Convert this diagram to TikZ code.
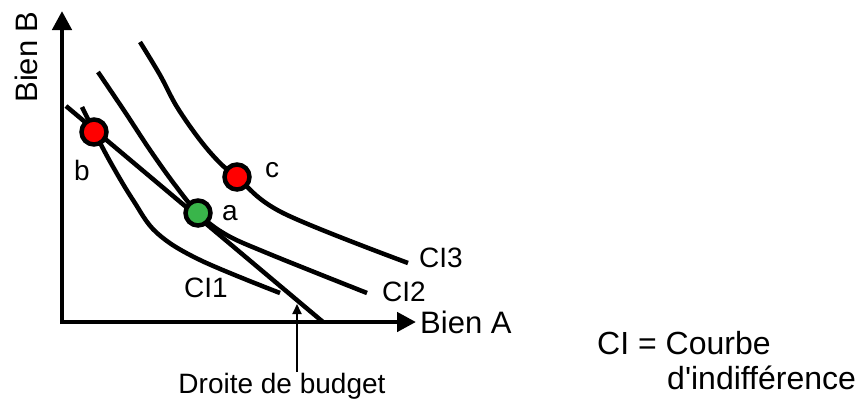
\documentclass[tikz,border=0pt]{standalone}
\usepackage{fontspec}
\setmainfont{Liberation Sans}
\usetikzlibrary{arrows.meta}
\definecolor{dotgreen}{RGB}{57,181,74}
\definecolor{dotred}{RGB}{255,0,0}
\tikzset{
  curve/.style={line width=4.5pt, line cap=butt},
  axis/.style={line width=4.5pt, -{Triangle[length=19pt,width=19pt]}},
  dot/.style={circle, draw=black, line width=4.5pt, minimum size=25pt, inner sep=0pt},
  lbl/.style={font=\fontsize{28}{32}\selectfont, inner sep=0pt},
  biglbl/.style={font=\fontsize{31}{36}\selectfont, inner sep=0pt},
  leglbl/.style={font=\fontsize{32}{37}\selectfont, inner sep=0pt},
}
\begin{document}
\begin{tikzpicture}[x=1pt,y=-1pt]
\useasboundingbox (0,0) rectangle (864,410);
% axes
\coordinate (Ytop) at (62,11);
\coordinate (Xend) at (416,322);
\draw[axis] (62,324) -- (Ytop);
\draw[axis] (60,322) -- (Xend);
\node[biglbl, rotate=90] (yl) at (26,57) {Bien B};
\node[biglbl, anchor=west] (xl) at (420,322) {Bien A};
% budget line
\coordinate (B1) at (66,106);
\coordinate (B2) at (323,322);
\draw[curve] (B1) -- (B2);
% indifference curves
\draw[curve] plot[smooth, tension=0.6] coordinates {(82,107) (96,135) (112,165) (133,200) (157,233) (200,260) (280,293)};
\draw[curve] plot[smooth, tension=0.6] coordinates {(98,72) (125,112) (150,150) (175,185) (198,213) (225,234) (267,253) (367,293)};
\draw[curve] plot[smooth, tension=0.6] coordinates {(140,42) (160,75) (177,107) (200,140) (220,163) (237,177) (283,213) (408,263)};
% points
\node[dot, fill=dotred] (b) at (94,132) {};
\node[dot, fill=dotred] (c) at (237,177) {};
\node[dot, fill=dotgreen] (a) at (198,213) {};
\node[lbl] (bl) at (82,170) {b};
\node[lbl] (cl) at (272,170) {c};
\node[lbl] (al) at (230,213) {a};
\node[lbl] (ci1) at (206,288) {CI1};
\node[lbl] (ci2) at (404,292) {CI2};
\node[lbl] (ci3) at (441,258) {CI3};
% budget label and arrow
\node[lbl] (db) at (282,386) {Droite de budget};
\coordinate (tip) at (297,304);
\draw[line width=2pt, -{Triangle[length=10pt,width=9pt]}] (297,372) -- (tip);
% legend
\node[leglbl, anchor=west] (leg1) at (597,343) {CI = Courbe};
\node[leglbl, anchor=west] (leg2) at (667,378) {d\textquotesingle indifférence};
\end{tikzpicture}
\end{document}
